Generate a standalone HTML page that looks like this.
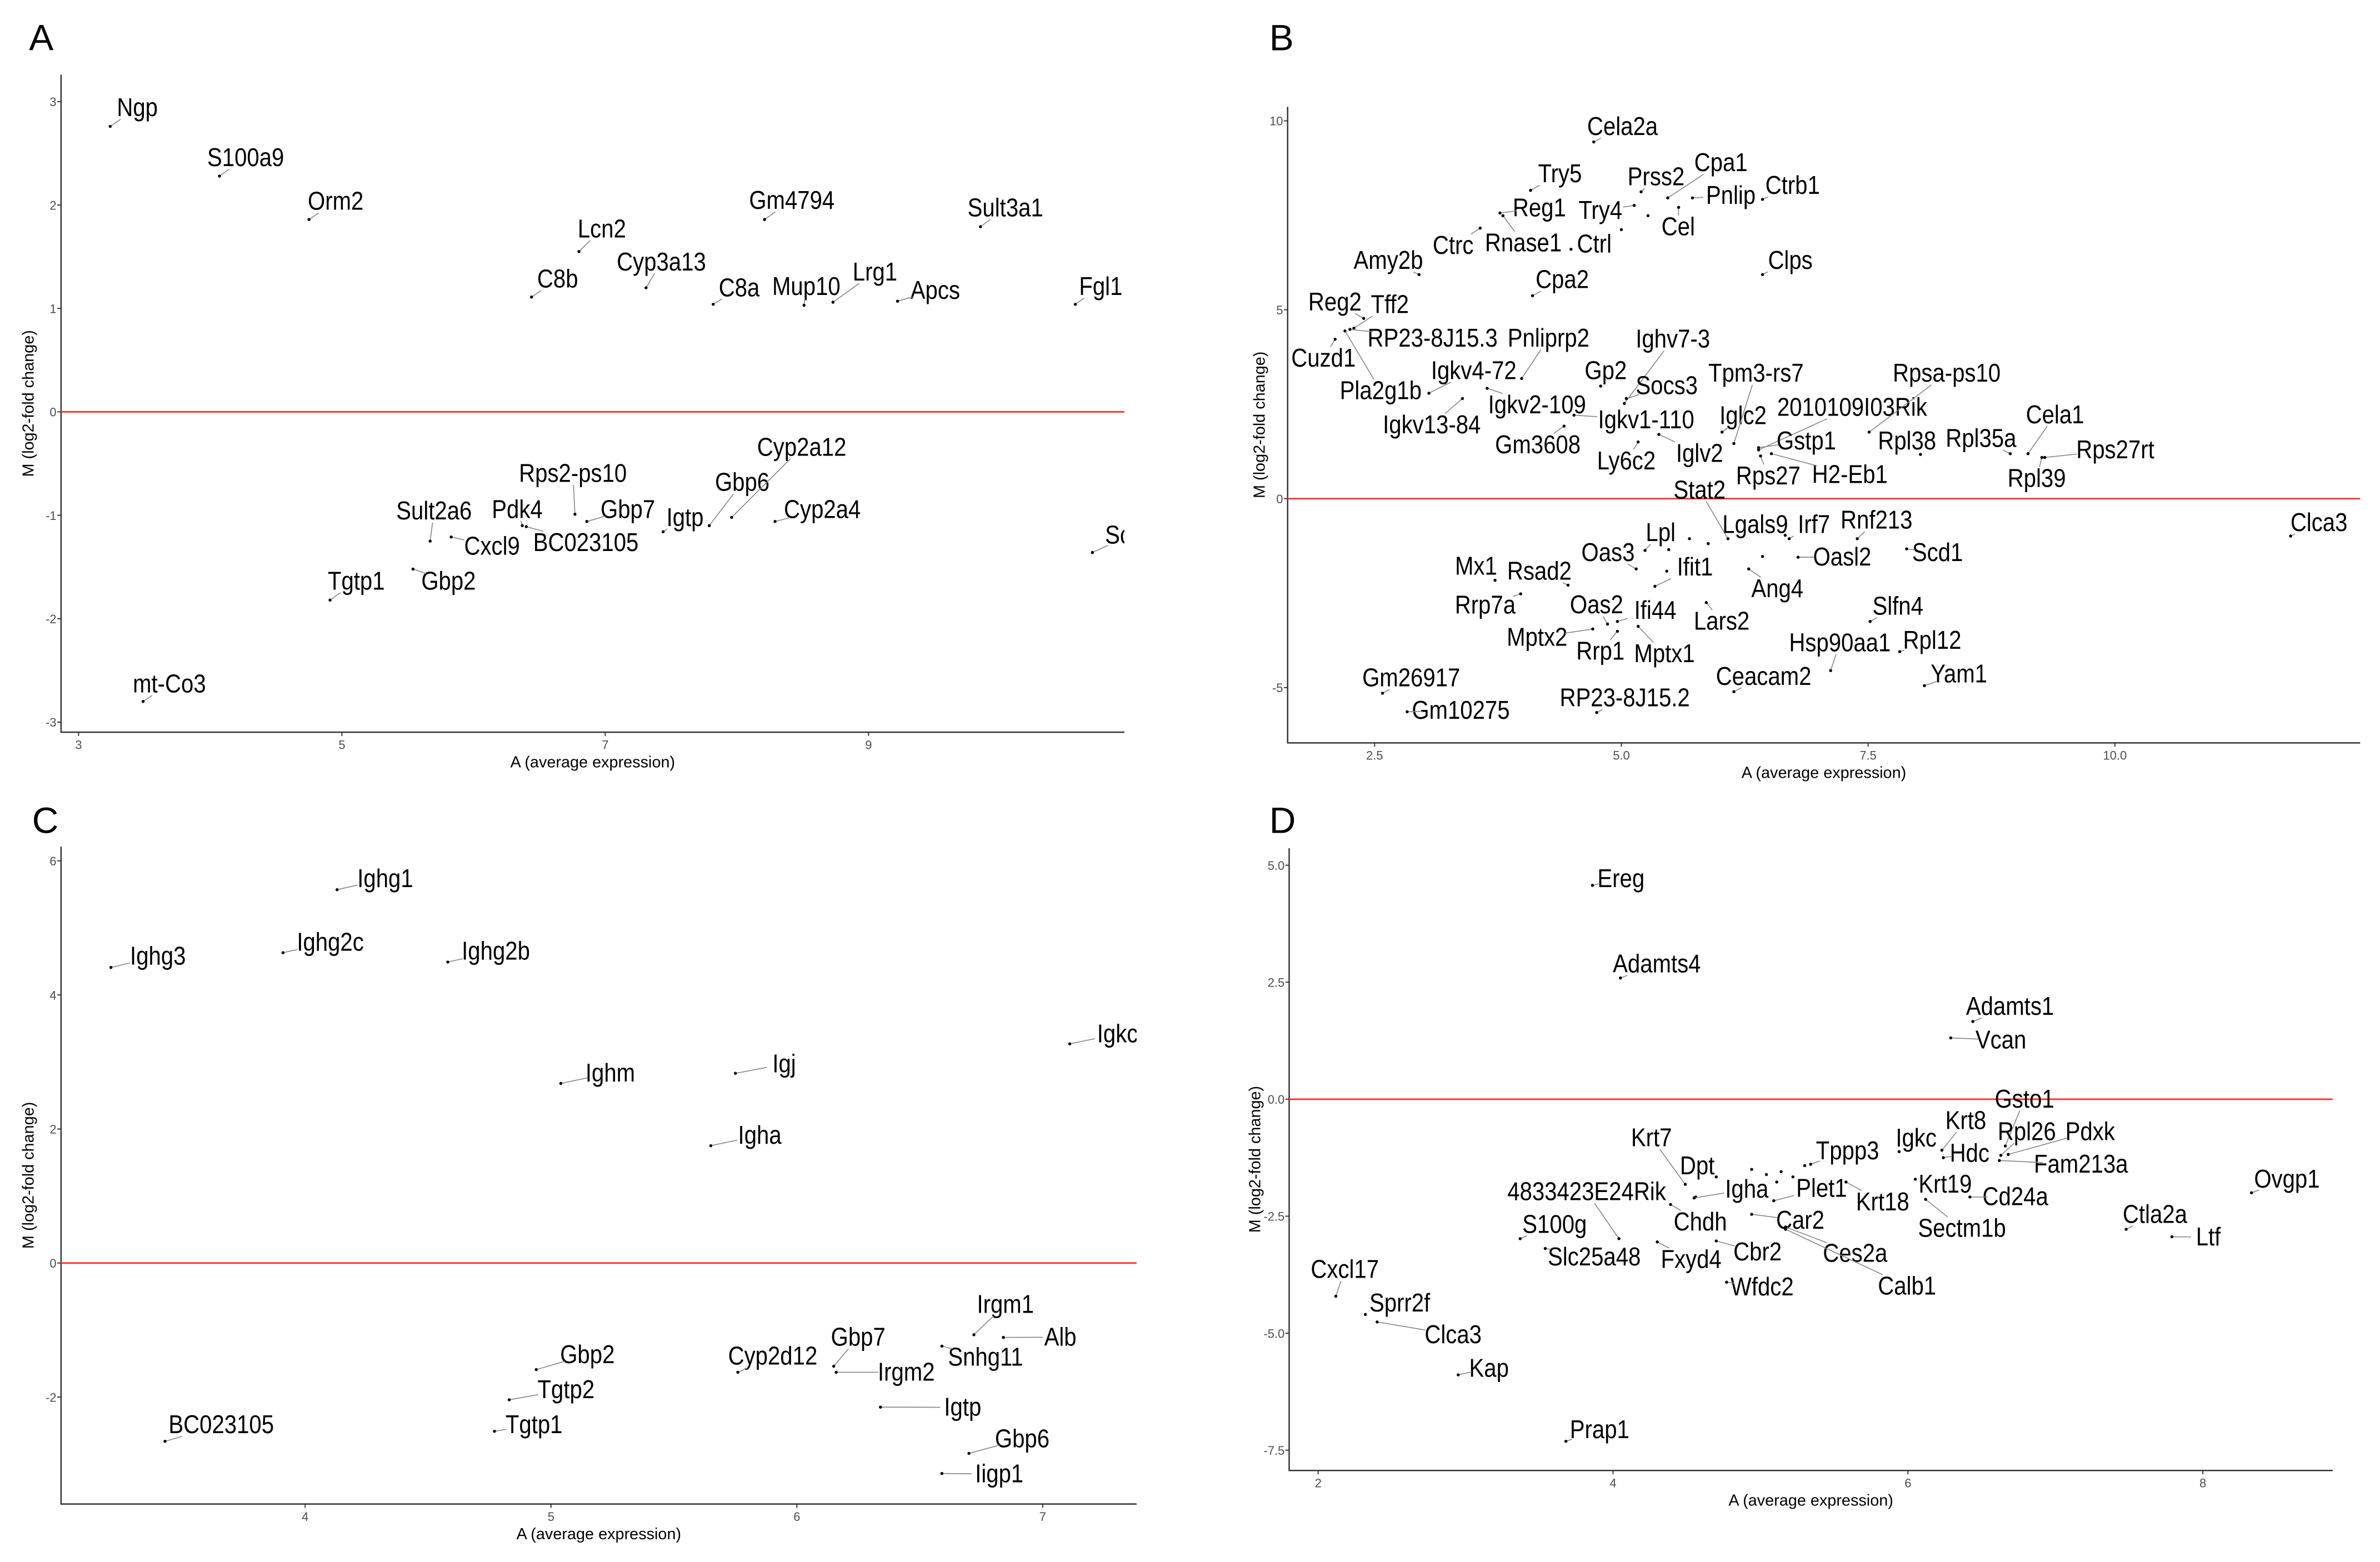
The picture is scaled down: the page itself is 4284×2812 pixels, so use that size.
<!DOCTYPE html>
<html><head><meta charset="utf-8"><style>
html,body{margin:0;padding:0;background:#fff;}
svg{display:block;}
</style></head>
<body>
<svg id="fig" xmlns="http://www.w3.org/2000/svg" width="4284" height="2812" viewBox="0 0 1560 1024" font-family="Liberation Sans, sans-serif">
<rect x="0" y="0" width="1560" height="1024" fill="#fff"/>
<defs>
<clipPath id="clipA"><rect x="40" y="40" width="697" height="440"/></clipPath>
<clipPath id="clipB"><rect x="844" y="60" width="703" height="427"/></clipPath>
<clipPath id="clipC"><rect x="40" y="545" width="705" height="441"/></clipPath>
<clipPath id="clipD"><rect x="845" y="546" width="680" height="418"/></clipPath>
</defs>
</svg>
<script>
// ---------- Panel A data ----------
const namesA=["Ngp","S100a9","Orm2","Lcn2","C8b","Cyp3a13","Gm4794","C8a","Mup10","Lrg1","Apcs","Sult3a1","Fgl1","Scd1","Igtp","Gbp6","Cyp2a12","Cyp2a4","Rps2-ps10","Gbp7","Pdk4","BC023105","Sult2a6","Cxcl9","Gbp2","Tgtp1","mt-Co3"];
const avgA=[3.24,4.07,4.75,6.80,6.44,7.31,8.21,7.82,8.51,8.73,9.22,9.85,10.57,10.70,7.44,7.79,7.96,8.29,6.77,6.86,6.37,6.40,5.67,5.83,5.54,4.91,3.49];
const mA=[2.76,2.28,1.86,1.55,1.11,1.20,1.86,1.04,1.03,1.06,1.07,1.79,1.04,-1.36,-1.16,-1.10,-1.02,-1.06,-0.99,-1.06,-1.10,-1.11,-1.25,-1.21,-1.52,-1.82,-2.80];
const labXA=[180,322,440,789,731,867,1038,969,1057,1147,1226,1318,1443,1482,898,973,1051,1078,751,823,678,768,569,645,588,467,222];
const labYA=[215,315,402,457,557,523,400,575,572,543,580,415,572,1068,1033,963,893,1017,945,1017,1017,1083,1020,1090,1160,1160,1365];
const xTicksA=[3,5,7,9];
const yTicksA=[3,2,1,0,-1,-2,-3];

// ---------- Panel B data ----------
const namesB=["Cela2a","Try5","Prss2","Cpa1","Ctrb1","Pnlip","Try4","Reg1","Cel","Rnase1","Ctrc","Ctrl","Amy2b","Clps","Cpa2","Reg2","Tff2","RP23-8J15.3","Cuzd1","Pla2g1b","Pnliprp2","Igkv4-72","Igkv13-84","Igkv2-109","Gp2","Ighv7-3","Socs3","Gm3608","Igkv1-110","Ly6c2","Iglv2","Iglc2","Tpm3-rs7","2010109I03Rik","Gstp1","Rps27","H2-Eb1","Rpsa-ps10","Rpl38","Rpl35a","Cela1","Rps27rt","Rpl39","Clca3","Stat2","Lgals9","Irf7","Rnf213","Scd1","Oasl2","Lpl","Oas3","Ifit1","Ang4","Mx1","Rsad2","Rrp7a","Oas2","Ifi44","Lars2","Mptx2","Rrp1","Mptx1","Slfn4","Hsp90aa1","Rpl12","Yam1","Ceacam2","Gm26917","Gm10275","RP23-8J15.2"];
const avgB=[4.72,4.08,5.20,5.47,6.43,5.72,5.13,3.77,5.58,3.80,3.57,4.49,2.95,6.43,4.10,2.39,2.29,2.25,2.10,2.20,3.99,3.05,3.39,3.64,4.79,5.03,5.05,4.42,4.52,5.17,5.38,6.02,6.14,6.39,6.39,6.41,6.52,7.51,8.03,8.94,9.12,9.29,9.26,11.78,6.08,6.66,6.70,7.39,7.89,6.79,5.24,5.15,5.34,6.29,3.72,4.46,3.98,4.86,4.96,5.86,4.71,4.96,5.17,7.52,7.12,7.82,8.07,6.14,2.58,2.83,4.75];
const mB=[9.44,8.16,8.12,7.96,7.92,7.96,7.76,7.56,7.71,7.49,7.16,6.60,5.93,5.93,5.37,4.77,4.51,4.48,4.22,4.44,3.18,2.79,2.65,2.92,2.98,2.52,2.65,1.92,2.21,1.50,1.70,1.76,1.46,1.29,1.35,1.13,1.19,1.76,1.17,1.19,1.19,1.09,1.09,-0.99,-1.06,-0.97,-1.06,-1.06,-1.33,-1.55,-1.37,-1.86,-2.32,-1.86,-2.16,-2.29,-2.52,-3.32,-3.25,-2.75,-3.45,-3.51,-3.38,-3.25,-4.55,-4.05,-4.95,-5.11,-5.15,-5.64,-5.66];
const labXB=[567,485,611,696,790,709,538,458,640,437,345,530,260,787,488,190,262,318,175,250,470,372,317,455,545,633,625,456,598,572,668,725,742,868,808,758,865,992,940,1037,1134,1213,1110,1480,668,741,818,900,980,855,617,548,662,770,375,458,387,533,610,697,455,538,622,928,852,973,1008,752,290,355,570];
const labYB=[253,347,353,325,370,390,420,415,453,485,490,487,520,520,558,603,608,675,715,780,675,740,848,808,740,677,770,888,838,920,905,830,745,813,880,950,947,745,880,875,828,898,955,1043,978,1047,1047,1038,1103,1112,1063,1103,1132,1175,1130,1140,1208,1207,1218,1240,1272,1300,1305,1210,1283,1278,1345,1350,1353,1418,1393];
const extraAvgB=[5.27,5.00,5.69,5.88,6.43,5.46,5.48];
const extraMB=[7.49,7.12,-1.06,-1.19,-1.53,-1.92,-1.35];
const xTicksB=[2.5,5.0,7.5,10.0];
const yTicksB=[10,5,0,-5];

// ---------- Panel C data ----------
const namesC=["Ighg1","Ighg3","Ighg2c","Ighg2b","Igkc","Ighm","Igj","Igha","Irgm1","Alb","Snhg11","Gbp7","Irgm2","Cyp2d12","Gbp2","Tgtp2","Tgtp1","Igtp","Gbp6","Iigp1","BC023105"];
const avgC=[4.13,3.21,3.91,4.58,7.11,5.04,5.75,5.65,6.72,6.84,6.59,6.15,6.16,5.76,4.94,4.83,4.77,6.34,6.70,6.59,3.43];
const mC=[5.57,4.41,4.63,4.49,3.27,2.68,2.83,1.75,-1.07,-1.11,-1.24,-1.54,-1.63,-1.63,-1.59,-2.04,-2.51,-2.15,-2.84,-3.14,-2.66];
const labXC=[505,207,433,650,1465,800,1028,996,1318,1390,1292,1125,1188,1013,770,742,700,1262,1340,1310,290];
const labYC=[195,350,322,340,505,583,565,707,1045,1110,1150,1110,1180,1148,1145,1215,1285,1250,1313,1383,1285];
const xTicksC=[4,5,6,7];
const yTicksC=[6,4,2,0,-2];

// ---------- Panel D data ----------
const namesD=["Ereg","Adamts4","Adamts1","Vcan","Gsto1","Krt8","Rpl26","Pdxk","Hdc","Fam213a","Igkc","Tppp3","Krt7","Dpt","Igha","Plet1","Krt19","Krt18","Cd24a","Sectm1b","4833423E24Rik","Chdh","S100g","Slc25a48","Fxyd4","Cbr2","Car2","Ces2a","Calb1","Wfdc2","Ovgp1","Ctla2a","Ltf","Cxcl17","Sprr2f","Clca3","Kap","Prap1"];
const avgD=[3.86,4.05,6.44,6.29,6.66,6.23,6.63,6.68,6.24,6.62,5.94,5.34,4.49,4.70,4.55,5.09,6.05,5.58,6.42,6.12,4.04,4.39,3.37,3.54,4.30,4.70,4.94,5.17,5.17,4.77,8.33,7.48,7.79,2.12,2.32,2.40,2.95,3.68];
const mD=[4.57,2.59,1.66,1.31,-1.00,-1.09,-1.20,-1.18,-1.25,-1.31,-1.12,-1.39,-1.82,-1.66,-2.11,-2.17,-1.71,-1.77,-2.09,-2.14,-2.98,-2.25,-2.98,-3.19,-3.05,-3.03,-2.46,-2.73,-2.78,-3.91,-2.00,-2.78,-2.94,-4.21,-4.60,-4.76,-5.89,-7.31];
const labXD=[565,612,1075,1063,1094,1017,1097,1180,1022,1168,952,862,605,665,730,828,990,908,1082,1012,520,669,478,530,657,744,800,872,940,750,1438,1265,1335,203,275,345,392,537];
const labYD=[195,365,450,517,635,678,700,700,743,765,713,738,712,768,815,813,805,840,830,893,820,880,885,950,955,940,877,943,1008,1010,795,865,910,975,1042,1105,1172,1295];
const extraAvgD=[4.94,5.04,5.11,5.22,5.30,5.14,4.56];
const extraMD=[-1.50,-1.61,-1.77,-1.66,-1.42,-1.55,-2.09];
const xTicksD=[2,4,6,8];
const yTicksD=[5.0,2.5,0.0,-2.5,-5.0,-7.5];

const NS="http://www.w3.org/2000/svg";
const svg=document.getElementById('fig');
function mk(tag,attrs,parent){const e=document.createElementNS(NS,tag);for(const k in attrs)e.setAttribute(k,attrs[k]);(parent||svg).appendChild(e);return e;}

function drawPanel(p){
  const g=mk('g',{});
  
  
  const X=v=>p.x0+(v-p.xv0)*p.xs;
  const Y=v=>p.y0-v*p.ys;
  const L=mk('text',{x:p.letter[0],y:p.letter[1],'font-size':24,fill:'#000'},g);
  L.textContent=p.id;
  
  
  const ax=mk('path',{d:`M${p.left},${p.top}V${p.bottom}H${p.right}`,stroke:'#333',fill:'none','stroke-width':0.9},g);
  
  
  p.xt.forEach(v=>{
    mk('line',{x1:X(v),x2:X(v),y1:p.bottom,y2:p.bottom+2.5,stroke:'#333','stroke-width':0.7},g);
    const t=mk('text',{x:X(v),y:p.bottom+11,'font-size':8,'text-anchor':'middle',fill:'#4d4d4d'},g);
    t.textContent=(p.xfmt?v.toFixed(1):v);
    
    
  });
  p.yt.forEach(v=>{
    mk('line',{x1:p.left-2.5,x2:p.left,y1:Y(v),y2:Y(v),stroke:'#333','stroke-width':0.7},g);
    const t=mk('text',{x:p.left-3,y:Y(v)+3,'font-size':8,'text-anchor':'end',fill:'#4d4d4d'},g);
    t.textContent=(p.yfmt?v.toFixed(1):v);
    
    
  });
  const xt=mk('text',{x:(p.left+p.right)/2,y:p.bottom+23,'font-size':10.5,'text-anchor':'middle',fill:'#000'},g);
  xt.textContent='A (average expression)';
  
  
  const yc=(p.top+p.bottom)/2;
  const yt=mk('text',{x:0,y:0,'font-size':10.5,'text-anchor':'middle',fill:'#000',transform:`translate(${p.ytx},${yc}) rotate(-90)`},g);
  yt.textContent='M (log2-fold change)';
  
  
  const z=mk('line',{x1:p.left,x2:p.right,y1:Y(0),y2:Y(0),stroke:'#ff2a2a','stroke-width':1},g);
  
  
  const cg=mk('g',{'clip-path':`url(#${p.clip})`},g);
  (p.exA||[]).forEach((a,i)=>{
    const c=mk('circle',{cx:X(a),cy:Y(p.exM[i]),r:1,fill:'#000'},cg);
    
    
  });
  p.names.forEach((n,i)=>{
    const px=X(p.avg[i]),py=Y(p.m[i]);
    const lx=p.zx0+p.lx[i]/2, ly=p.zy0+p.ly[i]*0.3285;
    const t=mk('text',{x:0,y:0,'font-size':17,'text-anchor':'middle','dominant-baseline':'central',fill:'#000',transform:`translate(${lx},${ly}) scale(0.86,1)`},cg);
    t.textContent=n;
    
    
    const w=n.length*8.0*0.86/2+1, h=7.5;
    const dx=px-lx, dy=py-ly;
    if(Math.abs(dx)>w||Math.abs(dy)>h){
      const s=Math.min(Math.abs(dx)>0?w/Math.abs(dx):1e9,Math.abs(dy)>0?h/Math.abs(dy):1e9);
      const ex=lx+dx*s, ey=ly+dy*s;
      if(Math.hypot(px-ex,py-ey)>3){
        const ln=mk('line',{x1:px,y1:py,x2:ex,y2:ey,stroke:'#888','stroke-width':0.6},cg);
        
        
      }
    }
    const c=mk('circle',{cx:px,cy:py,r:1,fill:'#000'},cg);
    
    
  });
}

drawPanel({id:'A',letter:[19,33],x0:51.5,xv0:3,xs:86.3,y0:270,ys:67.8,left:40,right:737,top:49,bottom:480,ytx:22,
  xt:xTicksA,yt:yTicksA,names:namesA,avg:avgA,m:mA,lx:labXA,ly:labYA,zx0:0,zy0:0,clip:'clipA'});
drawPanel({id:'B',letter:[832,33],x0:901,xv0:2.5,xs:64.7,y0:326.9,ys:24.77,left:844,right:1547,top:70,bottom:487,ytx:829,
  xt:xTicksB,yt:yTicksB,xfmt:true,names:namesB,avg:avgB,m:mB,lx:labXB,ly:labYB,zx0:780,zy0:0,exA:extraAvgB,exM:extraMB,clip:'clipB'});
drawPanel({id:'C',letter:[21,546],x0:200,xv0:4,xs:161.15,y0:828.0,ys:43.94,left:40,right:745,top:555,bottom:986,ytx:22,
  xt:xTicksC,yt:yTicksC,names:namesC,avg:avgC,m:mC,lx:labXC,ly:labYC,zx0:0,zy0:512,clip:'clipC'});
drawPanel({id:'D',letter:[832,546],x0:864,xv0:2,xs:96.65,y0:720.6,ys:30.68,left:845,right:1529,top:556,bottom:964,ytx:826,
  xt:xTicksD,yt:yTicksD,yfmt:true,names:namesD,avg:avgD,m:mD,lx:labXD,ly:labYD,zx0:780,zy0:512,exA:extraAvgD,exM:extraMD,clip:'clipD'});
</script>
</body></html>
